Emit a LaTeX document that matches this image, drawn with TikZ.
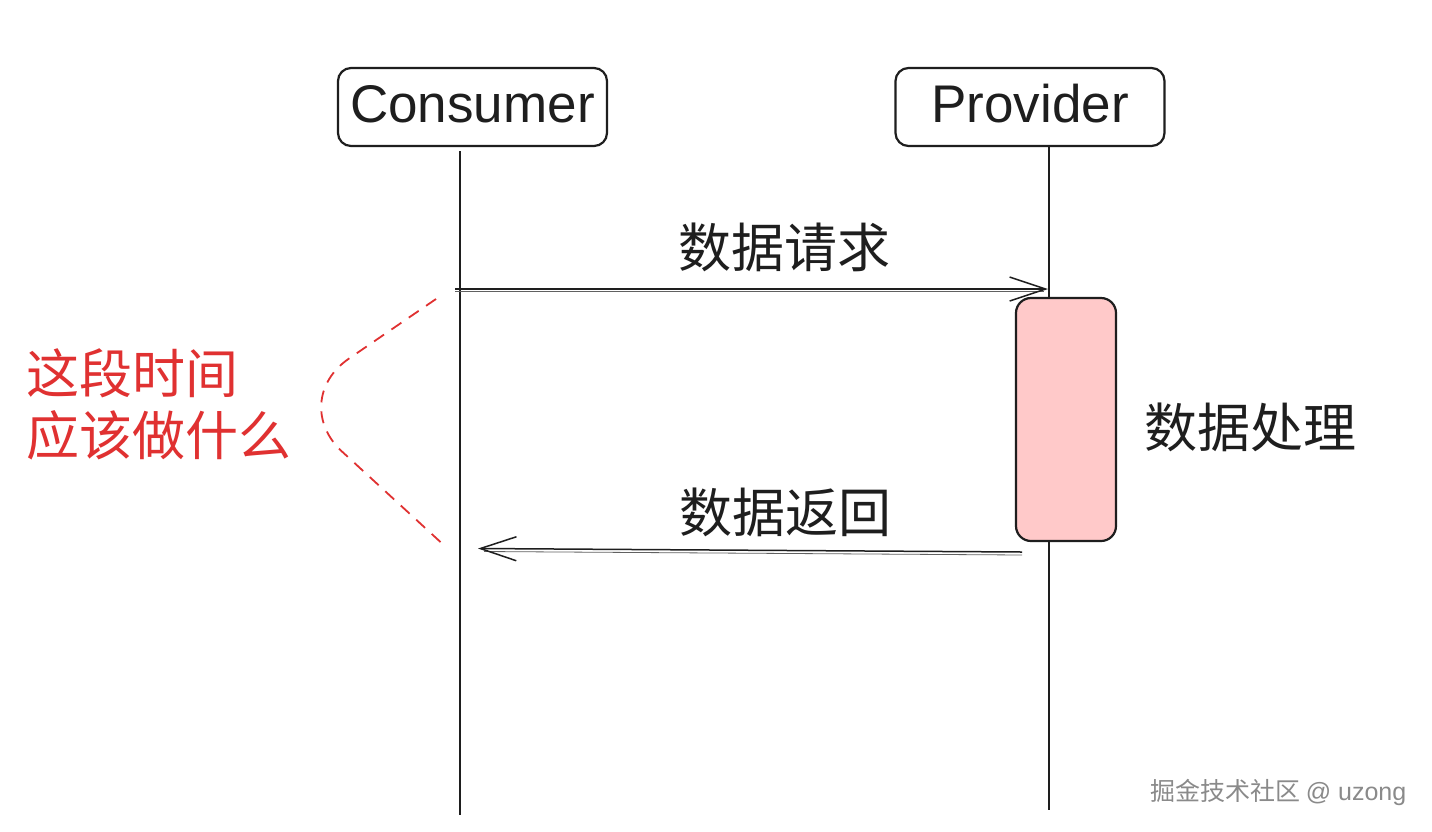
\documentclass[tikz,border=0pt]{standalone}
\usepackage{fontspec}
\setmainfont{Liberation Sans}
\newfontfamily\cjk{Noto Sans CJK SC}
\usetikzlibrary{arrows.meta}
\definecolor{ink}{HTML}{1E1E1E}
\definecolor{xred}{HTML}{E03131}
\definecolor{xpink}{HTML}{FFC9C9}
\definecolor{wmgray}{HTML}{8A8A8A}
\tikzset{
  actor/.style={draw=ink, line width=2.2pt, rounded corners=13pt, minimum width=269pt, minimum height=78pt, inner sep=0pt, text=ink, text height=40pt, text depth=10pt, font=\fontsize{53}{60}\selectfont},
  life/.style={draw=ink, line width=2.2pt},
  msg/.style={draw=ink, line width=1.5pt, -{Straight Barb[length=36pt,width=24pt,line width=1.5pt]}},
  msgtwin/.style={draw=ink!70, line width=0.8pt},
  actbox/.style={draw=ink, line width=2.2pt, fill=xpink, rounded corners=15pt, minimum width=100pt, minimum height=243pt, inner sep=0pt},
  lbl/.style={text=ink, font=\cjk\fontsize{53}{62}\selectfont, inner sep=0pt},
  note/.style={text=xred, font=\cjk\fontsize{53}{62}\selectfont, align=left, inner sep=0pt},
  brace/.style={draw=xred, line width=1.8pt, dash pattern=on 12pt off 9pt, rounded corners=75pt},
  wmark/.style={text=wmgray, font=\cjk\fontsize{25}{30}\selectfont, inner sep=0pt}
}
\begin{document}
\begin{tikzpicture}[x=1pt,y=-1pt]
\useasboundingbox (0,0) rectangle (1432,831);
\fill[white] (0,0) rectangle (1432,831);
% actors
\node[actor] (cons) at (472.5,107) {Consumer};
\node[actor] (prov) at (1030,107) {Provider};
% lifeline ends
\coordinate (cend) at (460,815);
\coordinate (pend) at (1049,810);
\draw[life] (cons.south -| cend) ++(0,4) -- (cend);
\draw[life] (prov.south -| pend) -- (pend);
% activation
\node[actbox] (act) at (1066,419.5) {};
\node[lbl] (proc) at (1250,427) {数据处理};
% request
\coordinate (rqs) at (455,289);
\coordinate (rqe) at (1048,289);
\draw[msgtwin] ([yshift=-2pt]rqs) -- ([yshift=-2pt,xshift=-4pt]rqe);
\draw[msg] (rqs) -- (rqe);
\node[lbl] (req) at (784,247) {数据请求};
% response
\coordinate (rps) at (1022,552);
\coordinate (rpe) at (478,548.5);
\draw[msgtwin] ([yshift=-3pt]rps) -- ([yshift=-3pt,xshift=6pt]rpe);
\draw[msg] (rps) -- (rpe);
\node[lbl] (resp) at (785,512) {数据返回};
% note
\coordinate (b1) at (436,299);
\coordinate (b2) at (287,401);
\coordinate (b3) at (447,548);
\draw[brace] (b1) -- (b2) -- (b3);
\node[note, anchor=west] (q) at (26,404) {这段时间\\应该做什么};
% watermark
\node[wmark, anchor=west] (wmk) at (1150,792) {掘金技术社区 {\fontspec{Liberation Sans}@ uzong}};
\end{tikzpicture}
\end{document}
